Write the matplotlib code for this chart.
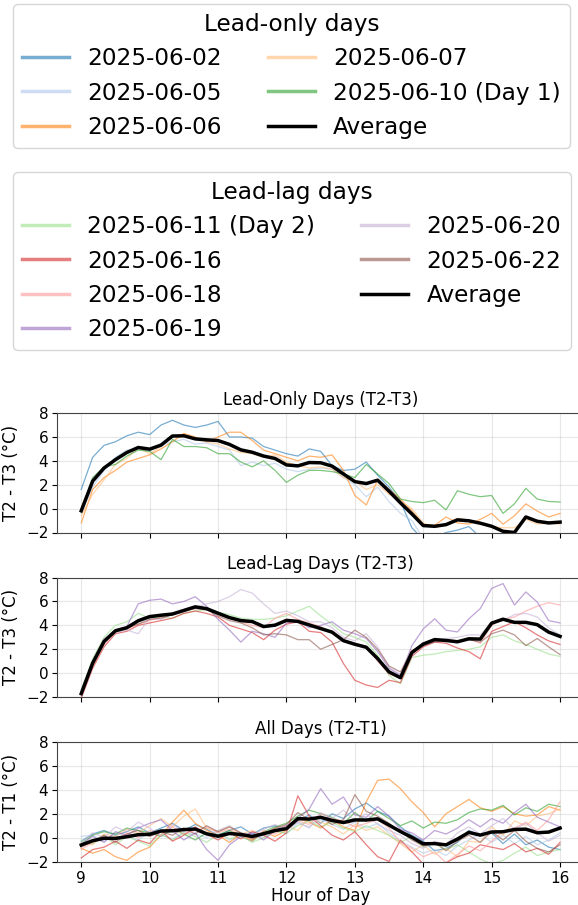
import numpy as np
import matplotlib
matplotlib.use("Agg")
import matplotlib.pyplot as plt
from matplotlib.lines import Line2D

# time grid: 10-minute samples from 09:00 to 16:00
hours = np.linspace(9, 16, 43)

lead_only_days = ["2025-06-02", "2025-06-05", "2025-06-06", "2025-06-07", "2025-06-10 (Day 1)"]
lead_lag_days = ["2025-06-11 (Day 2)", "2025-06-16", "2025-06-18", "2025-06-19", "2025-06-20", "2025-06-22"]

# T2 - T3, lead-only days
lo_0602 = [1.6, 4.3, 5.3, 5.6, 6.1, 6.4, 6.2, 7.0, 7.4, 7.0, 6.8, 7.0, 7.3, 6.0, 6.0, 5.9, 5.2, 4.9, 4.6, 4.4, 5.0,
           4.8, 3.6, 3.2, 3.3, 3.9, 2.8, 1.8, 0.6, -1.6, -2.6, -2.4, -2.0, -1.8, -1.5, -2.4, -3.2, -3.0, -4.0, -2.3,
           -2.2, -2.2, -2.3]
lo_0605 = [-0.4, 1.8, 3.2, 4.3, 4.9, 5.0, 4.8, 5.3, 5.6, 5.8, 5.4, 5.5, 5.2, 4.9, 3.6, 3.9, 3.6, 3.8, 3.3, 3.1, 3.3,
           3.4, 3.3, 2.6, 2.0, 1.0, 1.8, 0.6, -0.4, -1.0, -2.5, -2.7, -2.6, -2.4, -2.5, -2.6, -3.4, -3.2, -4.2, -2.4,
           -2.4, -2.5, -2.2]
lo_0606 = [-1.2, 1.6, 2.6, 3.2, 3.9, 4.2, 4.5, 5.0, 5.6, 6.3, 6.0, 5.6, 6.0, 6.4, 6.4, 5.7, 4.9, 4.6, 4.3, 4.0, 4.4,
           4.3, 4.5, 3.2, 1.1, 0.3, 2.4, 1.6, 0.8, -0.2, -1.3, -1.4, -0.7, -1.2, -1.3, -0.9, -0.4, -1.3, -0.6, 0.4,
           -0.2, -0.7, -0.4]
lo_0607 = [-0.6, 1.2, 2.4, 3.7, 4.2, 5.1, 4.6, 5.2, 6.0, 6.2, 5.8, 5.6, 5.4, 5.0, 4.7, 4.6, 4.3, 4.5, 3.9, 3.6, 3.4,
           3.5, 3.3, 2.6, 2.3, 1.6, 2.0, 1.2, 0.6, 0.0, -1.2, -1.6, -1.3, -0.8, -1.0, -1.2, -1.5, -1.6, -1.6, -0.9,
           -1.3, -1.2, -1.3]
lo_0610 = [-0.3, 2.6, 3.5, 3.7, 4.4, 4.9, 4.8, 4.1, 5.8, 5.2, 5.2, 5.1, 4.6, 4.6, 3.9, 3.5, 4.0, 3.2, 2.2, 2.8, 3.2,
           3.2, 3.1, 2.9, 2.6, 3.7, 2.9, 2.1, 0.8, 0.6, 0.5, 0.7, -0.1, 1.5, 1.2, 1.0, 1.1, -0.4, 0.4, 1.7,
           0.8, 0.6, 0.55]

# T2 - T3, lead-lag days
ll_0611 = [-1.4, 1.2, 3.0, 4.0, 4.3, 5.0, 4.6, 4.7, 4.6, 5.0, 5.2, 5.3, 5.1, 4.9, 4.6, 4.5, 4.5, 4.6, 4.8, 5.2, 5.6,
           4.8, 4.1, 3.3, 3.0, 2.6, 1.5, -0.2, -0.9, 1.3, 1.5, 1.6, 1.8, 1.9, 2.0, 2.2, 3.0, 3.2, 2.7, 2.4,
           2.0, 1.6, 1.4]
ll_0616 = [-2.1, 0.4, 2.2, 3.3, 3.5, 4.0, 4.2, 4.4, 4.6, 5.0, 5.2, 5.0, 4.7, 4.0, 3.7, 3.4, 2.8, 3.6, 4.1, 4.3, 3.5,
           3.4, 2.6, 0.8, -0.6, -1.0, -1.2, -0.6, -0.8, 1.4, 2.2, 2.6, 2.5, 2.1, 1.8, 1.2, 3.5, 3.9, 4.3, 3.8,
           3.2, 2.7, 2.4]
ll_0618 = [-1.9, 0.6, 2.4, 3.5, 3.7, 4.1, 4.4, 4.7, 4.9, 5.2, 5.6, 5.4, 5.0, 4.6, 4.3, 4.0, 3.8, 4.6, 5.0, 4.5, 4.2,
           3.9, 3.4, 2.8, 2.5, 2.2, 1.0, -0.1, -0.4, 1.8, 2.4, 2.7, 2.8, 2.6, 2.9, 2.5, 4.0, 4.5, 4.7, 5.2,
           5.6, 5.9, 5.7]
ll_0619 = [-1.6, 1.0, 2.8, 3.6, 3.9, 5.8, 6.1, 6.2, 5.8, 6.0, 6.4, 5.6, 4.5, 3.6, 2.6, 3.5, 3.3, 3.0, 4.2, 4.4, 3.8,
           4.0, 4.3, 3.6, 3.3, 2.9, 1.8, 0.4, -0.2, 2.3, 3.7, 4.55, 3.6, 3.45, 4.55, 5.4, 7.1, 7.5, 5.7, 6.8,
           5.95, 4.4, 4.2]
ll_0620 = [-1.5, 1.0, 2.9, 3.4, 3.6, 3.3, 4.6, 4.5, 4.9, 5.1, 5.5, 5.8, 6.0, 6.4, 7.0, 6.7, 5.8, 5.0, 5.2, 4.8, 4.3,
           4.3, 3.8, 3.0, 2.7, 3.3, 2.2, 0.5, -0.1, 1.6, 2.5, 2.8, 2.9, 3.0, 3.2, 3.2, 4.2, 4.4, 4.9, 5.0,
           4.7, 3.8, 3.2]
ll_0622 = [-1.8, 0.8, 2.6, 3.5, 3.8, 4.1, 4.5, 4.6, 4.9, 5.2, 5.4, 5.3, 4.8, 4.4, 4.2, 3.8, 3.2, 3.3, 3.2, 2.8, 2.8,
           2.0, 2.4, 2.8, 3.6, 3.0, 2.0, 0.6, 0.1, 1.9, 2.3, 2.6, 2.8, 2.7, 2.8, 2.6, 3.3, 3.6, 3.2, 2.3,
           2.9, 2.2, 1.55]

# T2 - T1, all days
all_0602 = [-0.3, 0.3, 0.6, 0.2, 0.5, 0.9, 0.4, 0.8, 1.2, 0.6, 1.1, 0.7, 0.2, 0.6, 0.9, 0.3, 0.8, 1.0, 0.7, 1.4, 1.9,
            1.2, 2.0, 1.6, 2.4, 2.9, 2.2, 1.8, 0.9, 0.2, -0.3, -1.1, -0.9, -0.4, 0.6, 0.2, 0.4, -0.5, 0.3, -0.6,
            -0.2, -0.8, -1.0]
all_0605 = [0.1, 0.2, -0.3, 0.4, 0.1, -0.2, 0.5, 0.2, -0.1, 0.4, 0.3, 0.0, 0.5, -0.2, 0.1, 0.4, 0.0, 0.7, 0.3, 1.2, 0.9,
            1.5, 1.1, 0.7, 1.3, 0.8, 1.2, 0.4, -0.3, -0.8, -1.3, -1.0, -1.5, -0.7, -0.2, 0.3, -0.4, 0.2, -0.5, 0.1,
            -0.6, -0.2, 0.4]
all_0606 = [-0.9, -1.3, -1.0, -1.6, -1.9, -1.2, -0.8, 0.2, 1.3, 2.3, 1.2, 0.6, 0.2, -0.4, 0.3, -0.2, 0.5, 0.1, 0.6, 1.6,
            1.3, 0.8, 1.5, 0.9, 0.6, 3.0, 4.8, 4.9, 4.1, 3.0, 2.1, 0.9, 2.0, 2.6, 3.2, 2.5, 2.2, 2.6, 2.0, 1.8,
            1.9, 2.6, 2.3]
all_0607 = [-0.4, -0.6, 0.3, 0.1, 0.7, 0.4, 1.0, 1.6, 0.9, 1.8, 2.4, 0.8, 0.5, 0.9, 0.3, 0.6, 0.2, 0.8, 1.0, 0.6, 1.7,
            1.3, 0.9, 0.3, 1.1, 0.6, 0.9, 0.2, -0.5, -1.2, -0.6, -1.4, -0.9, -1.6, -0.3, -0.4, 0.9, 0.2, 1.4, 1.0,
            1.8, 2.0, 2.4]
all_0610 = [-0.5, 0.2, 0.5, 0.3, 0.8, 0.6, 0.4, 0.1, 0.7, 0.3, -0.2, 0.4, 0.2, 0.6, 0.1, -0.3, 0.5, 0.9, 1.2, 1.8, 2.3,
            2.0, 1.7, 1.2, 2.1, 1.4, 2.2, 1.6, 1.0, 1.4, 0.8, 1.3, 1.2, 1.5, 2.1, 2.4, 2.3, 2.7, 1.9, 2.5,
            2.2, 2.8, 2.6]
all_0611 = [-0.2, -0.5, 0.2, -0.6, 0.1, -0.3, -0.7, 0.3, -0.2, 0.4, 0.1, -0.4, 0.3, -0.1, 0.2, -0.4, 0.0, 0.5, 0.4, 1.0,
            1.4, 0.9, 1.3, 0.8, 0.5, 1.0, 0.6, 0.2, -0.4, 0.1, -0.8, -0.5, -1.0, -0.6, -1.2, -1.8, -2.2, -1.9, -1.3,
            -0.8, -1.5, -1.2, -1.0]
all_0616 = [-1.7, -1.0, -0.8, -0.3, -0.9, -0.2, -0.5, 0.6, -0.3, 0.2, 0.9, 0.3, -0.2, 0.4, -0.1, 0.5, 0.2, -0.3, 0.4,
            3.5, 1.8, 1.0, 0.2, -0.2, 0.5, -0.6, -1.6, -2.0, -0.2, -1.2, -2.2, -2.4, -2.1, -1.6, -1.3, -0.6, -0.8,
            -1.0, -0.5, -1.2, -0.9, -1.4, -0.4]
all_0618 = [-1.0, -0.4, 0.1, -0.2, 0.4, 0.0, 0.6, 0.2, 0.9, 0.3, 0.6, 0.9, 0.4, 0.7, 0.2, -0.3, 0.6, 0.3, 0.9, 1.4, 1.1,
            2.0, 1.6, 1.4, 0.9, 1.2, 1.5, 0.8, -0.4, -0.9, -1.6, -1.2, -2.1, -1.4, -0.7, -1.1, -0.3, 0.5, 0.8, 1.3,
            0.6, 1.5, 3.0]
all_0619 = [-0.6, 0.1, -0.4, 0.5, 0.2, 0.8, 1.2, 1.5, 0.6, -0.2, 0.4, -1.0, -1.9, -0.6, 0.1, 0.4, -0.2, 0.6, 1.0, 1.6,
            2.4, 4.1, 2.8, 3.4, 1.9, 1.7, 2.6, 1.8, 0.7, 0.4, -0.2, 0.6, 0.3, 0.8, 1.5, 0.9, 1.6, 1.2, 2.1, 2.8,
            1.7, 1.3, 0.9]
all_0620 = [-0.5, 0.4, 0.0, 0.9, 0.5, 1.3, 0.8, 0.1, 1.1, 0.5, 0.8, 0.2, 0.6, 1.0, 0.4, 0.2, 0.7, 1.1, 0.6, 1.3, 0.8,
            2.1, 1.6, 2.3, 1.4, 2.0, 1.1, 0.6, 0.2, -0.5, -0.9, -0.3, -0.6, 0.4, 0.9, 0.3, 1.0, 1.6, 0.7, 1.2,
            0.4, -0.3, 0.2]
all_0622 = [-0.8, -0.3, 0.2, -0.4, 0.3, 0.6, 0.1, 0.5, 0.2, 0.8, 0.3, 1.0, 0.5, 0.9, 0.4, -0.1, 0.3, 0.8, 1.1, 2.1, 1.5,
            1.8, 1.1, 1.5, 3.6, 2.2, 1.8, 1.2, 0.5, -0.2, -0.7, -0.4, -1.1, -0.3, 0.2, -0.4, 0.5, -0.2, 0.6, -0.3,
            -0.9, -1.2, -0.6]

lead_only = [lo_0602, lo_0605, lo_0606, lo_0607, lo_0610]
lead_lag = [ll_0611, ll_0616, ll_0618, ll_0619, ll_0620, ll_0622]
all_days = [all_0602, all_0605, all_0606, all_0607, all_0610, all_0611,
            all_0616, all_0618, all_0619, all_0620, all_0622]

colors = plt.get_cmap("tab20").colors
lo_colors = colors[0:5]
ll_colors = colors[5:11]

fig = plt.figure(figsize=(5.78, 9.05), dpi=100)

W, H = 578, 905
ax_left = 57.3 / W
ax_width = (584 - 57.3) / W
ax_height = 119.4 / H
bottoms = [(H - 532.5) / H, (H - 697.0) / H, (H - 861.5) / H]

panels = [
    (lead_only, lo_colors, "Lead-Only Days (T2-T3)", "T2 - T3 (°C)"),
    (lead_lag, ll_colors, "Lead-Lag Days (T2-T3)", "T2 - T3 (°C)"),
    (all_days, colors[0:11], "All Days (T2-T1)", "T2 - T1 (°C)"),
]

axes = []
for i, (series, cols, title, ylab) in enumerate(panels):
    ax = fig.add_axes([ax_left, bottoms[i], ax_width, ax_height])
    for s, c in zip(series, cols):
        ax.plot(hours, s, color=c, lw=0.9, alpha=0.6)
    avg = np.mean(np.array(series), axis=0)
    ax.plot(hours, avg, color="black", lw=2.5)
    ax.set_xlim(8.65, 16.35)
    ax.set_ylim(-2, 8)
    ax.set_yticks([-2, 0, 2, 4, 6, 8])
    ax.set_xticks(range(9, 17))
    ax.grid(True, alpha=0.3)
    ax.set_title(title, fontsize=12)
    ax.set_ylabel(ylab, fontsize=12)
    ax.tick_params(labelsize=11, pad=3)
    for sp in ax.spines.values():
        sp.set_color("#444444")
    if i < 2:
        ax.tick_params(labelbottom=False)
    axes.append(ax)

axes[-1].set_xlabel("Hour of Day", fontsize=12, labelpad=1)

# figure-level legends for the two groups of days
h1 = [Line2D([0], [0], color=c, lw=2.5, alpha=0.6) for c in lo_colors]
h1.append(Line2D([0], [0], color="black", lw=2.5))
fig.legend(handles=h1, labels=lead_only_days + ["Average"], loc="upper left",
           bbox_to_anchor=(13 / W, 1 - 4 / H), borderaxespad=0, ncol=2,
           fontsize=16.7, title="Lead-only days", title_fontsize=16.7,
           labelspacing=0.48)

h2 = [Line2D([0], [0], color=c, lw=2.5, alpha=0.6) for c in ll_colors]
h2.append(Line2D([0], [0], color="black", lw=2.5))
fig.legend(handles=h2, labels=lead_lag_days + ["Average"], loc="upper left",
           bbox_to_anchor=(13 / W, 1 - 172 / H), borderaxespad=0, ncol=2,
           fontsize=16.7, title="Lead-lag days", title_fontsize=16.7,
           labelspacing=0.48)

fig.savefig("out.png", dpi=100)
